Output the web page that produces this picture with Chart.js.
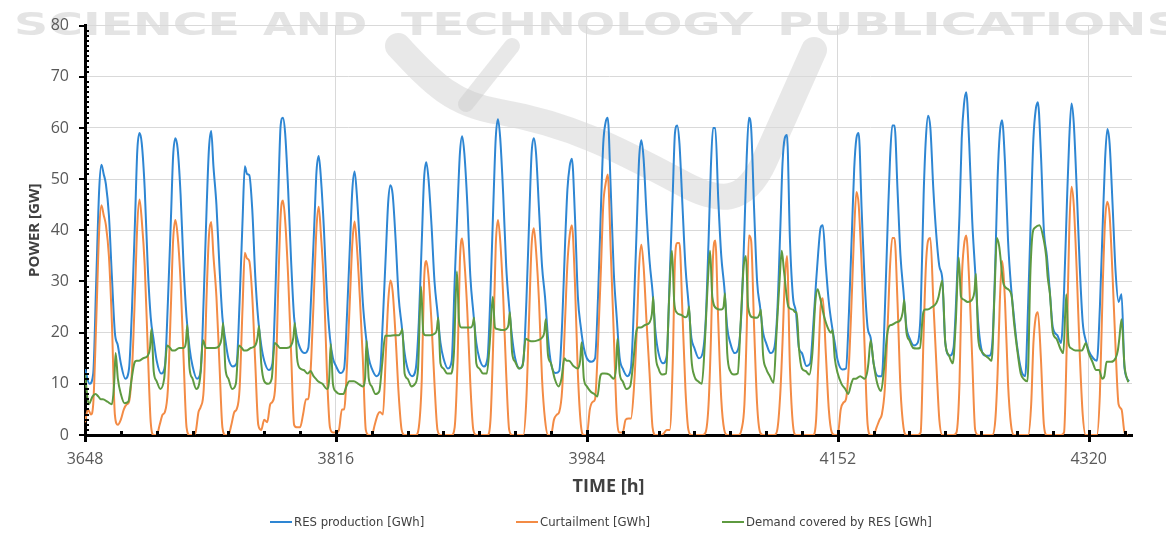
<!DOCTYPE html>
<html>
<head>
<meta charset="utf-8">
<title>RES production, curtailment and demand covered by RES</title>
<script src="https://cdn.jsdelivr.net/npm/chart.js@4.4.1/dist/chart.umd.min.js"></script>
<style>
  html, body { margin: 0; padding: 0; background: #fff; }
  #wrap { position: relative; width: 1166px; height: 537px; }
  #legend { position: absolute; left: 0; top: 514px; width: 1166px; height: 18px;
            font-family: 'Liberation Sans Narrow', 'DejaVu Sans Condensed', sans-serif;
            font-size: 13px; color: #404040; }
  .item { position: absolute; top: 0; display: flex; align-items: center; white-space: nowrap; }
  .swatch { display: inline-block; width: 22px; height: 2px; margin-right: 2px; }
</style>
</head>
<body>
<div id="wrap">
  <canvas id="chart" width="1166" height="537"></canvas>
  <div id="legend"></div>
</div>
<script>
// ============================================
// DATA - hourly readings (keypoints per day)
// ============================================
const START_HOUR = 3648;
const weekTicks = [3648, 3816, 3984, 4152, 4320];

// RES production [GWh] - hour of day, then one row per day
const resHourOfDay = [0, 3, 5.5, 7.5, 9.5, 11, 12.5, 14, 16, 18, 20, 22];
const resByDay = [
  [13, 10, 12, 30, 48, 52.8, 51, 49, 43, 31, 20, 17.5],
  [14, 11, 13, 25, 42, 55.5, 59, 57, 48, 33, 23, 18.5],
  [14.5, 12, 13.5, 26, 42, 54.5, 58, 56, 47, 33, 23, 17],
  [13.5, 11, 12.5, 27, 45, 56, 59.4, 52.5, 45, 33, 23, 18.5],
  [15, 13.4, 14, 26, 42, 52.5, 51, 50.8, 44, 31, 22.5, 17.5],
  [14.5, 12.7, 14, 28, 48, 60.5, 62, 59, 48, 34, 23, 19],
  [17, 16, 17, 27.5, 41, 51.5, 54.5, 50, 40, 27, 19, 15],
  [13.5, 12.1, 13, 24, 38, 48, 51.5, 47, 37, 26, 19.5, 15],
  [13, 11.5, 12.5, 23, 36, 45.5, 48.8, 47, 38, 27, 21.5, 16],
  [13, 11.5, 13, 22, 38, 50, 53.3, 50, 41, 30, 24, 18],
  [15, 13, 14.5, 30, 45, 55, 58.4, 55, 45, 31, 24, 18],
  [15, 13.4, 15, 28, 46, 58, 61.7, 58, 47, 33, 25, 19],
  [15, 13, 14.5, 26, 43, 55, 58, 55, 44, 33, 27, 19],
  [14, 12.1, 12.5, 22, 38, 48, 52.5, 54, 43, 27, 21, 17],
  [15, 14.3, 15, 27, 45, 57, 61, 62, 48, 32, 23, 15],
  [13, 11.5, 13, 25, 41.5, 54, 57.6, 54, 43, 34, 28, 20],
  [16, 14, 15.5, 31, 47, 59, 60.5, 57, 45, 33, 26, 19],
  [17, 15, 16, 22, 38, 52, 60, 60, 46, 35, 29, 21],
  [18, 16, 17, 24, 40, 54, 62, 60, 44, 30, 25, 20],
  [18, 16, 17, 24, 40, 53, 58, 58.6, 38, 27, 24, 17],
  [16, 13.5, 14, 21, 30, 36, 40.5, 41, 33, 26, 21.5, 18],
  [14.5, 12.8, 13, 24, 40, 52, 58, 59, 44, 30, 21, 19],
  [14, 11.5, 11.5, 24, 42, 54, 60.5, 60.5, 48, 35, 28, 21],
  [19, 17.5, 18, 24, 47, 58, 62.4, 60, 48, 39, 33, 30.5],
  [18, 15.5, 17, 28, 43, 58, 64.6, 67, 57, 42, 32, 22],
  [17, 15.5, 15.5, 18, 34, 50, 59, 61.5, 53, 38, 29, 23],
  [17.5, 12.5, 11.5, 26, 45, 58, 63.5, 65, 55, 40, 35, 28],
  [21, 19.5, 18, 28, 46, 58, 64.8, 61, 48, 33, 22, 18.5],
  [16.5, 15, 14.5, 25, 42, 54, 59.8, 57, 45, 32, 26, 27.5],
  [13, 10.5]
];

// Curtailment [GWh]
const curtHourOfDay = [0, 2, 4, 5.5, 7.5, 9.5, 11, 12.5, 14, 16, 18, 20, 22];
const curtByDay = [
  [2.5, 5, 4, 6, 22, 40, 44.9, 43, 41, 35, 22, 4, 2],
  [3, 5, 6, 6.5, 13, 28, 41, 46, 42, 33, 17, 2.5, 0],
  [0, 2, 4, 4.5, 9, 25, 38, 42, 39, 30, 15, 1.5, 0],
  [0, 0.5, 4.5, 5.5, 9, 28, 39, 41.6, 35, 27, 14, 1.5, 0],
  [0, 2, 4.5, 5, 9, 25, 35.6, 34.5, 34, 27, 14, 2, 1],
  [3, 2.5, 6, 6.5, 10, 30, 43, 45.8, 42, 31, 16, 2, 1.5],
  [1.5, 4, 7, 7, 15, 29.5, 40.5, 44.6, 39, 29, 12, 1.5, 0.5],
  [0.5, 1, 5, 5, 14, 27.5, 37.5, 41.7, 37, 27, 15, 1, 0],
  [0, 2, 4, 4.5, 4, 16.5, 26, 30.2, 28, 19, 8, 1, 0],
  [0, 0, 0, 0, 1.5, 11, 30, 34, 31, 22, 10, 1, 0],
  [0, 0, 0, 0, 1.5, 15, 34, 38.4, 34, 24, 10, 1, 0],
  [0, 0, 0, 0, 3, 20, 37, 42, 38, 27, 12, 1, 0],
  [0, 0, 0, 0, 7, 24.5, 37, 40.4, 36, 26, 11, 3, 0],
  [0, 3, 4, 4.5, 9, 23, 33.5, 39, 41, 30, 12, 2, 0],
  [0, 5, 6.5, 7, 18, 33, 45, 49, 50.9, 36, 20, 4, 0.5],
  [0.5, 3, 3.2, 3.2, 9, 21, 33, 37.2, 33, 22, 12, 1.5, 0],
  [0, 0, 0.5, 1, 1, 14, 34, 37.5, 37.5, 24, 9, 1, 0],
  [0, 0, 0, 0, 0.5, 6, 18, 35, 38, 22, 7, 1, 0],
  [0, 0, 0, 0, 1, 6, 20, 39, 38, 21, 6, 0.5, 0],
  [0, 0, 0, 0, 1, 8, 18, 30, 35, 13, 2, 0, 0],
  [0, 0, 0, 0, 0, 3, 14, 25, 26.7, 16, 5, 0.5, 0],
  [0, 5, 6.4, 7, 14, 28, 40, 47.5, 45, 33, 17, 2, 0],
  [0, 1.5, 3, 4, 9, 22, 33, 38.5, 38.5, 26, 9, 1.5, 0],
  [0, 0, 0, 0, 0.5, 20, 33, 38, 38.5, 26, 14, 3, 0],
  [0, 0, 0, 0, 0.5, 10, 30, 37, 39, 30, 15, 1, 0],
  [0, 0, 0, 0, 0, 3, 12, 26, 34, 26, 10, 2, 0],
  [0, 0, 0, 0, 0, 6, 18, 23, 24, 15, 2, 0, 0],
  [0, 0, 0, 0, 0.5, 20, 40, 48.5, 45, 32, 16, 4, 0],
  [0, 0, 0, 0, 8, 30, 42, 45.6, 43, 31, 17, 6, 5],
  [0.5, 0]
];

// Demand covered by RES [GWh]
const demandHourOfDay = [0, 2.5, 5, 7, 9, 10.5, 12, 15, 18, 19.5, 20.5, 22];
const demandByDay = [
  [12, 6, 7.5, 8, 7.5, 7, 7, 6.5, 6, 10, 16, 11],
  [8, 6.2, 6.5, 10.5, 14, 14.5, 14.5, 15, 15.5, 17, 20.7, 12.5],
  [10.5, 9, 11, 17.5, 17, 16.5, 16.5, 17, 17, 18, 21.5, 13],
  [11, 9, 11, 18.5, 17, 17, 17, 17, 17.5, 19, 21.9, 13],
  [11, 9, 10, 17.5, 17, 16.5, 16.5, 17, 17.5, 19, 21.3, 14],
  [10.5, 10, 11, 18, 17.5, 17, 17, 17, 17.5, 19, 21.9, 15],
  [13, 12.7, 12, 12.5, 11.5, 11, 10.5, 10, 9, 11, 17.8, 10],
  [8.5, 8, 8, 9.5, 10.5, 10.5, 10.5, 10, 9.5, 11, 18.4, 11],
  [9.5, 8, 8.5, 14, 19.4, 19.4, 19.4, 19.5, 19.5, 20, 20.7, 12],
  [11, 9.5, 10, 13, 29, 20, 19.5, 19.5, 19.8, 20.5, 22.9, 14],
  [13, 12, 12, 16, 32, 22, 21, 21, 21, 21.5, 22.9, 14],
  [13, 12, 12, 18, 27, 21, 20.7, 20.5, 20.7, 21.5, 24, 16],
  [14.3, 13, 13.5, 18.8, 18.5, 18.3, 18.3, 18.5, 19, 20, 22.6, 15.6],
  [14, 11, 9.5, 11, 15, 14.5, 14.5, 13.5, 13, 14.5, 18.1, 11],
  [9.5, 8.5, 8, 7.5, 11.5, 12, 12, 11.8, 11, 13, 18.8, 12],
  [10.5, 9, 9.5, 14, 20, 21, 21, 21.5, 22, 23.5, 27, 16],
  [13, 11.8, 12, 26, 36, 26, 24, 23.5, 23, 23.5, 25.1, 15],
  [11.5, 10.5, 10, 18, 30, 36, 27, 24.7, 24.5, 25, 27.7, 16],
  [12.5, 11.8, 12, 22, 33, 35, 25, 23, 22.9, 23.5, 24.5, 15.6],
  [13, 11.5, 10.2, 20, 30, 36, 32, 25, 24.5, 24, 24, 17],
  [13, 12.5, 11.8, 16, 26, 28.5, 27, 23, 20.5, 20, 20.5, 15],
  [12, 10, 9, 8, 10, 11, 11, 11.5, 11, 12, 14, 18.5],
  [14, 10, 8.6, 13, 19.5, 21.3, 21.5, 22, 22.5, 24, 26.4, 20],
  [18.5, 17, 16.9, 17, 23.5, 24.5, 24.5, 25, 25.8, 27, 28.5, 30.2],
  [18, 15.5, 14, 22, 34.7, 27, 26.5, 26, 26.5, 28, 31.5, 19],
  [16.5, 15.6, 15, 14.5, 28, 38.5, 37, 29.5, 28.5, 28, 27, 22],
  [17, 12, 10.8, 10.5, 32, 39.5, 40.5, 41, 38, 35, 31, 27.7],
  [20, 18.8, 16.9, 16, 27.5, 18, 17, 16.5, 16.5, 16.5, 17, 18],
  [16, 14.3, 12.7, 12.7, 11, 11.5, 14.3, 14.3, 15, 16.5, 18.8, 22.6],
  [13.5, 10.3]
];

const seriesLabels = ['RES production [GWh]', 'Curtailment [GWh]', 'Demand covered by RES [GWh]'];
const seriesColors = ['#2E86D3', '#F38B45', '#5E9A40'];

// ============================================
// HELPERS
// ============================================
function toPoints(hoursOfDay, byDay) {
  const points = [];
  byDay.forEach((row, day) => {
    row.forEach((value, i) => {
      points.push({ x: START_HOUR + 24 * day + hoursOfDay[i], y: value });
    });
  });
  return points;
}

// tick marks on both axes (major + minor), drawn over the axis lines
const axisMarks = {
  id: 'axisMarks',
  afterDraw(chart) {
    const { ctx, chartArea, scales: { x, y } } = chart;
    ctx.save();
    ctx.fillStyle = '#000';
    for (let v = y.min; v <= y.max; v++) {
      const py = Math.round(y.getPixelForValue(v));
      if (v % 10 === 0) ctx.fillRect(chartArea.left - 6, py - 1, 8, 2);
      else ctx.fillRect(chartArea.left, py - 1, 4, 2);
    }
    for (let h = START_HOUR; h <= x.max; h += 24) {
      const px = Math.round(x.getPixelForValue(h));
      if ((h - START_HOUR) % 168 === 0) ctx.fillRect(px - 1, chartArea.bottom - 5, 3, 12);
      else ctx.fillRect(px - 1, chartArea.bottom - 4, 3, 4);
    }
    ctx.restore();
  }
};

// publisher watermark, painted first so everything else sits on top
const watermark = {
  id: 'watermark',
  beforeDraw(chart) {
    const ctx = chart.ctx;
    ctx.save();
    ctx.fillStyle = '#E4E4E4';
    ctx.font = 'bold 32px "DejaVu Sans"';
    const words = [['SCIENCE', 14, 226], ['AND', 263, 104], ['TECHNOLOGY', 401, 352], ['PUBLICATIONS', 777, 405]];
    words.forEach(([word, left, width]) => {
      const w = ctx.measureText(word).width;
      ctx.save();
      ctx.translate(left, 35);
      ctx.scale(width / w, 1);
      ctx.fillText(word, 0, 0);
      ctx.restore();
    });
    ctx.strokeStyle = 'rgba(200,200,200,0.42)';
    ctx.lineCap = 'round';
    ctx.lineJoin = 'round';
    ctx.lineWidth = 26;
    ctx.beginPath();
    ctx.moveTo(398, 46);
    ctx.bezierCurveTo(430, 80, 450, 104, 500, 112);
    ctx.bezierCurveTo(570, 124, 620, 150, 680, 182);
    ctx.bezierCurveTo(720, 204, 745, 205, 765, 160);
    ctx.lineTo(814, 50);
    ctx.stroke();
    ctx.lineWidth = 16;
    ctx.beginPath();
    ctx.moveTo(512, 46);
    ctx.lineTo(466, 104);
    ctx.stroke();
    ctx.restore();
  }
};

// ============================================
// RENDER CHART
// ============================================
const tickFont = { family: "'Open Sans', 'DejaVu Sans', sans-serif", size: 16 };
const titleFont = { family: "'Open Sans', 'DejaVu Sans', sans-serif", weight: 'bold' };

const datasets = [
  { label: seriesLabels[0], data: toPoints(resHourOfDay, resByDay), borderColor: seriesColors[0], order: 2 },
  { label: seriesLabels[1], data: toPoints(curtHourOfDay, curtByDay), borderColor: seriesColors[1], order: 1 },
  { label: seriesLabels[2], data: toPoints(demandHourOfDay, demandByDay), borderColor: seriesColors[2], order: 0 }
];

new Chart(document.getElementById('chart'), {
  type: 'line',
  data: { datasets },
  options: {
    responsive: false,
    animation: false,
    devicePixelRatio: 1,
    layout: { padding: { top: 16, right: 34, bottom: 34, left: 0 } },
    elements: {
      point: { radius: 0 },
      line: { borderWidth: 2, cubicInterpolationMode: 'monotone', fill: false }
    },
    plugins: { legend: { display: false }, tooltip: { enabled: false } },
    scales: {
      x: {
        type: 'linear',
        min: 3648,
        max: 4349,
        afterBuildTicks: (scale) => { scale.ticks = weekTicks.map(v => ({ value: v })); },
        afterFit: (scale) => { scale.height = 68; },
        grid: { color: '#D9D9D9', lineWidth: 1, drawTicks: false },
        border: { color: '#000', width: 3 },
        ticks: { color: '#595959', font: tickFont, padding: 15, maxRotation: 0, callback: (v) => String(v) },
        title: { display: true, text: 'TIME [h]', color: '#404040', font: { ...titleFont, size: 18 }, padding: { top: 0, bottom: 5 } }
      },
      y: {
        min: 0,
        max: 80,
        afterFit: (scale) => { scale.width = 85; },
        grid: { color: '#D9D9D9', lineWidth: 1, drawTicks: false },
        border: { color: '#000', width: 3 },
        ticks: { stepSize: 10, color: '#595959', font: tickFont, padding: 16 },
        title: { display: true, text: 'POWER [GW]', color: '#404040', font: { ...titleFont, size: 15 }, padding: { top: 26, bottom: 0 } }
      }
    }
  },
  plugins: [watermark, axisMarks]
});

// legend as plain text below the chart
const legendLefts = [270, 516, 722];
const legend = document.getElementById('legend');
seriesLabels.forEach((label, i) => {
  const item = document.createElement('div');
  item.className = 'item';
  item.style.left = legendLefts[i] + 'px';
  const swatch = document.createElement('span');
  swatch.className = 'swatch';
  swatch.style.background = seriesColors[i];
  const text = document.createElement('span');
  text.textContent = label;
  item.appendChild(swatch);
  item.appendChild(text);
  legend.appendChild(item);
});
</script>
</body>
</html>
